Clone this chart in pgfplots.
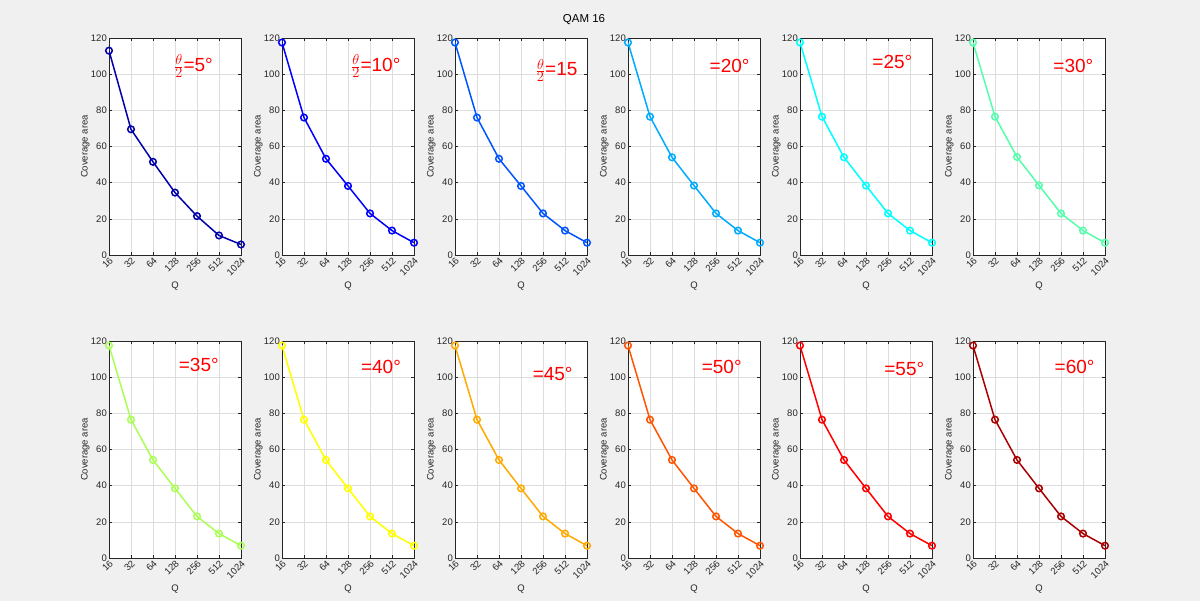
\documentclass[border=0pt]{standalone}
\usepackage{pgfplots}
\pgfplotsset{compat=1.18}
\usepackage{pgfplotstable}
\usepackage{fontspec}
\setmainfont{Liberation Sans}
\definecolor{bg}{RGB}{240,240,240}
\definecolor{ax}{RGB}{38,38,38}
\definecolor{c1}{rgb}{0,0,0.667}
\definecolor{c2}{rgb}{0,0,1}
\definecolor{c3}{rgb}{0,0.333,1}
\definecolor{c4}{rgb}{0,0.667,1}
\definecolor{c5}{rgb}{0,1,1}
\definecolor{c6}{rgb}{0.333,1,0.667}
\definecolor{c7}{rgb}{0.667,1,0.333}
\definecolor{c8}{rgb}{1,1,0}
\definecolor{c9}{rgb}{1,0.667,0}
\definecolor{c10}{rgb}{1,0.333,0}
\definecolor{c11}{rgb}{1,0,0}
\definecolor{c12}{rgb}{0.667,0,0}

\pgfplotstableread{
x y
0 113.0
1 69.5
2 51.5
3 34.5
4 21.5
5 10.8
6 5.8
}\tA
\pgfplotstableread{
x y
0 117.5
1 76.0
2 53.2
3 38.2
4 23.0
5 13.5
6 6.8
}\tB
\pgfplotstableread{
x y
0 117.5
1 76.5
2 54.0
3 38.4
4 23.0
5 13.5
6 6.8
}\tC
\pgfplotstableread{
x y
0 117.5
1 76.5
2 54.2
3 38.5
4 23.0
5 13.5
6 6.8
}\tD

\pgfplotsset{qam/.style={
  scale only axis, width=132pt, height=217pt,
  xmin=0, xmax=6, ymin=0, ymax=120,
  xtick={0,...,6}, xticklabels={16,32,64,128,256,512,1024},
  ytick={0,20,...,120},
  grid=major, major grid style={color=black!13, line width=0.5pt},
  axis line style={ax, line width=0.5pt},
  tick style={ax, line width=0.5pt}, tick align=inside, major tick length=3pt,
  tick label style={font=\fontsize{9.5}{10}\selectfont, text=ax},
  xticklabel style={rotate=45, anchor=north east, inner sep=1pt},
  yticklabel style={inner sep=2pt},
  label style={font=\fontsize{9.5}{11}\selectfont, text=ax},
  xlabel={Q}, ylabel={Coverage area},
  xlabel style={at={(axis description cs:0.5,-0.143)}, anchor=center},
  ylabel style={at={(axis description cs:-0.18,0.5)}, anchor=center},
  axis background/.style={fill=white},
  /pgf/number format/assume math mode=true,
}}

\newcommand{\panel}[7]{%
\begin{axis}[qam, at={(#1pt,#2pt)}, anchor=south west]
\addplot[color=#3, line width=1.5pt, mark=o, mark size=3.3pt, mark options={line width=1.5pt}] table {#4};
\node[text=red, font=\fontsize{19}{19}\selectfont] at (rel axis cs:#5,#6) {#7};
\end{axis}}

\begin{document}
\begin{tikzpicture}[x=1pt,y=1pt]
\fill[bg] (0,0) rectangle (1200,601);
\useasboundingbox (0,0) rectangle (1200,601);
\node[font=\fontsize{11.5}{13}\selectfont, text=black] at (584,581) {QAM 16};
\panel{109}{346}{c1}{\tA}{0.64}{0.87}{$\frac{\theta}{2}$=5°}
\panel{282}{346}{c2}{\tB}{0.71}{0.87}{$\frac{\theta}{2}$=10°}
\panel{455}{346}{c3}{\tB}{0.77}{0.85}{$\frac{\theta}{2}$=15}
\panel{628}{346}{c4}{\tC}{0.77}{0.87}{=20°}
\panel{800}{346}{c5}{\tC}{0.70}{0.89}{=25°}
\panel{973}{346}{c6}{\tD}{0.76}{0.87}{=30°}
\panel{109}{43}{c7}{\tD}{0.68}{0.89}{=35°}
\panel{282}{43}{c8}{\tD}{0.75}{0.88}{=40°}
\panel{455}{43}{c9}{\tD}{0.74}{0.85}{=45°}
\panel{628}{43}{c10}{\tD}{0.71}{0.88}{=50°}
\panel{800}{43}{c11}{\tD}{0.79}{0.87}{=55°}
\panel{973}{43}{c12}{\tD}{0.77}{0.88}{=60°}
\end{tikzpicture}
\end{document}
